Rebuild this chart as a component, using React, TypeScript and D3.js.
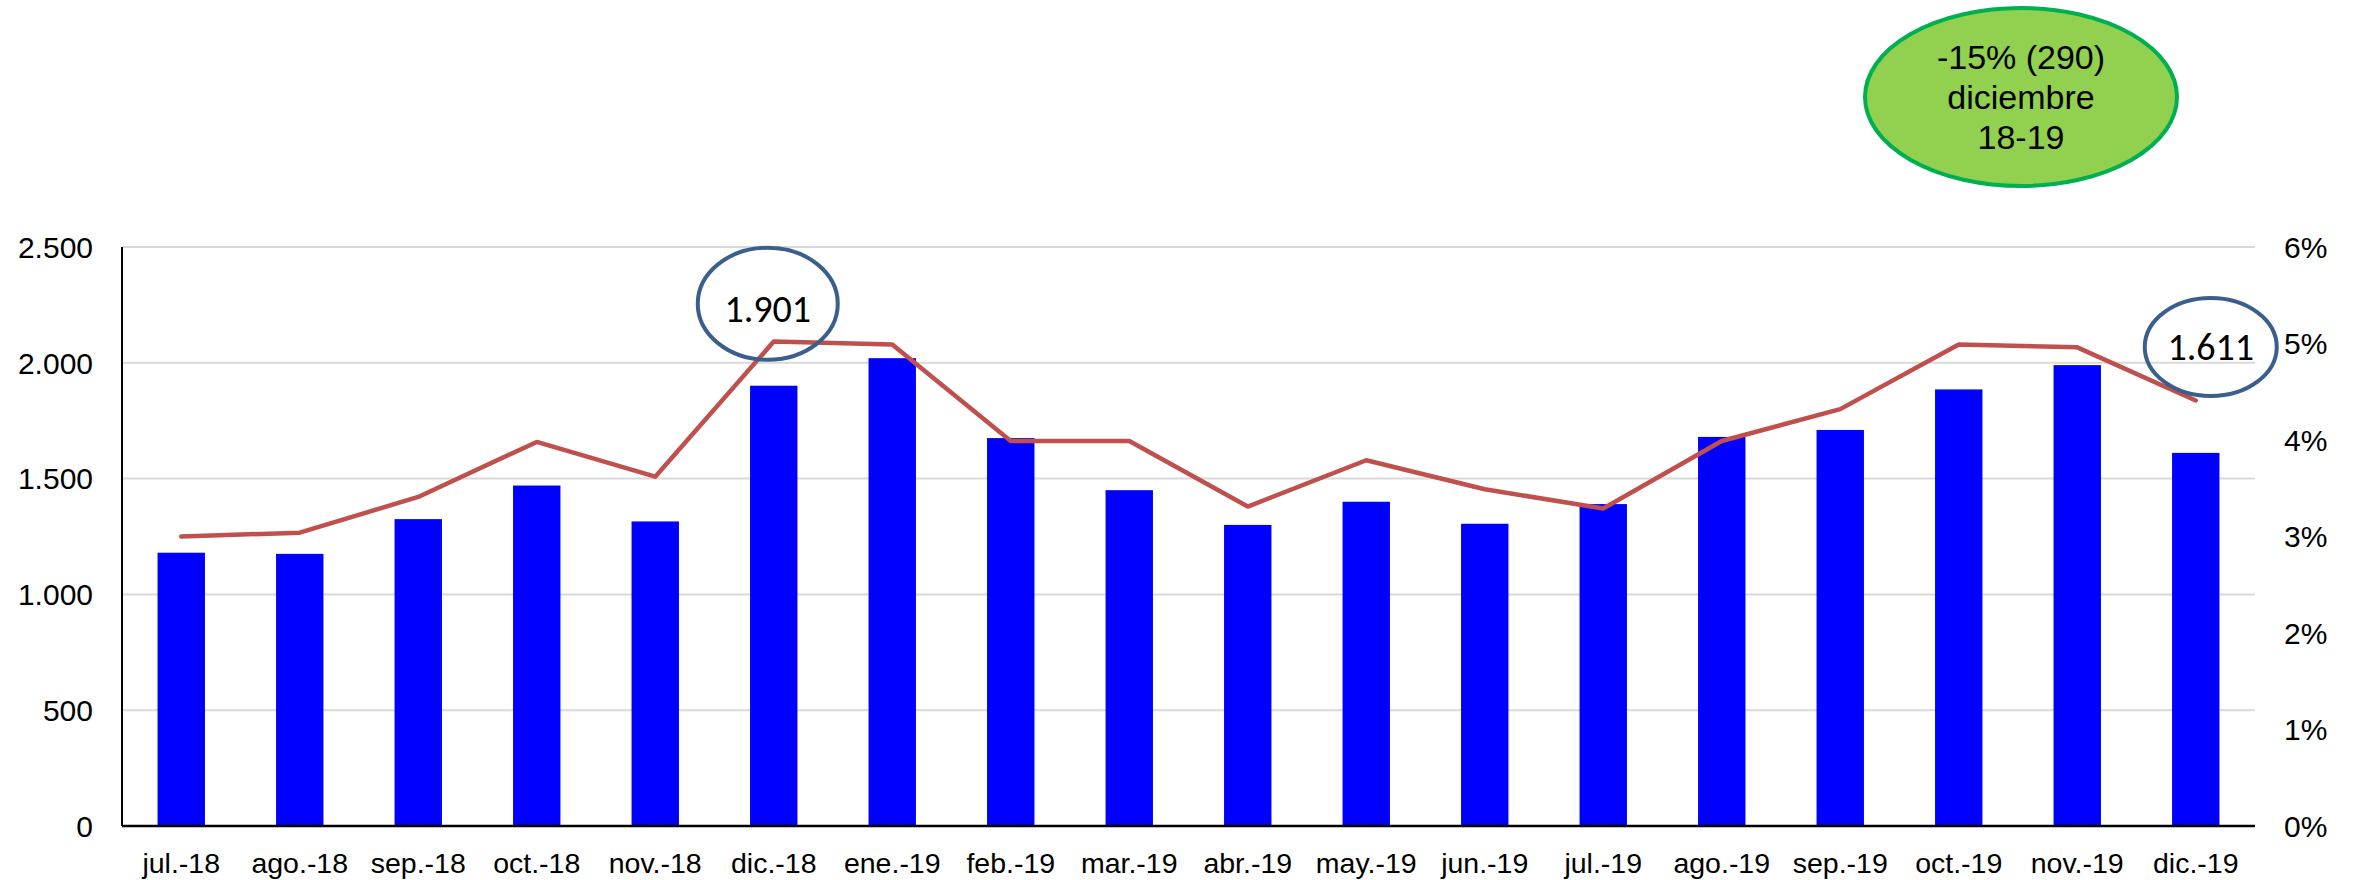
import * as d3 from "d3";
import { useEffect, useRef } from "react";

const months = [
  "jul.-18", "ago.-18", "sep.-18", "oct.-18", "nov.-18", "dic.-18",
  "ene.-19", "feb.-19", "mar.-19", "abr.-19", "may.-19", "jun.-19",
  "jul.-19", "ago.-19", "sep.-19", "oct.-19", "nov.-19", "dic.-19",
];
const cases = [
  1180, 1175, 1325, 1470, 1315, 1901,
  2020, 1675, 1450, 1300, 1400, 1305,
  1390, 1680, 1710, 1885, 1990, 1611,
];
// percent, right axis
const rates = [
  3.0, 3.04, 3.41, 3.98, 3.62, 5.02,
  4.99, 3.99, 3.99, 3.31, 3.79, 3.49,
  3.29, 3.99, 4.32, 4.99, 4.96, 4.41,
];
const leftTicks = [0, 500, 1000, 1500, 2000, 2500];
const rightTicks = [0, 1, 2, 3, 4, 5, 6];
const calloutLines = ["-15% (290)", "diciembre", "18-19"];

const W = 2359;
const H = 880;

export default function App() {
  const svgRef = useRef<SVGSVGElement | null>(null);

  useEffect(() => {
    if (!svgRef.current) return;
    const svg = d3.select(svgRef.current);
    svg.selectAll("*").remove();

    const margin = { top: 247, right: 104, bottom: 54, left: 122 };
    const x0 = margin.left;
    const x1 = W - margin.right;
    const yBottom = H - margin.bottom;

    const x = d3
      .scaleBand()
      .domain(months)
      .range([x0, x1])
      .paddingInner(0.6)
      .paddingOuter(0.3);
    const yL = d3.scaleLinear().domain([0, 2500]).range([yBottom, margin.top]);
    const yR = d3.scaleLinear().domain([0, 6]).range([yBottom, margin.top]);
    const cx = (m: string) => x(m)! + x.bandwidth() / 2;

    const fmt = (v: number) => d3.format(",")(v).replace(/,/g, ".");

    // gridlines
    svg
      .append("g")
      .selectAll("line")
      .data(leftTicks.filter((t) => t > 0))
      .join("line")
      .attr("x1", x0)
      .attr("x2", x1)
      .attr("y1", (d) => yL(d))
      .attr("y2", (d) => yL(d))
      .attr("stroke", "#d9d9d9")
      .attr("stroke-width", 2);

    // bars
    svg
      .append("g")
      .selectAll("rect")
      .data(months)
      .join("rect")
      .attr("x", (d) => x(d)!)
      .attr("width", x.bandwidth())
      .attr("y", (d, i) => yL(cases[i]))
      .attr("height", (d, i) => yBottom - yL(cases[i]))
      .attr("fill", "#0000ff");

    // axes lines
    svg
      .append("line")
      .attr("x1", x0)
      .attr("x2", x0)
      .attr("y1", margin.top)
      .attr("y2", yBottom)
      .attr("stroke", "#000")
      .attr("stroke-width", 2);
    svg
      .append("line")
      .attr("x1", x0)
      .attr("x2", x1)
      .attr("y1", yBottom)
      .attr("y2", yBottom)
      .attr("stroke", "#000")
      .attr("stroke-width", 2.5);

    // rate line
    const line = d3
      .line<number>()
      .x((d, i) => cx(months[i]))
      .y((d) => yR(d));
    svg
      .append("path")
      .datum(rates)
      .attr("d", line)
      .attr("fill", "none")
      .attr("stroke", "#c0504d")
      .attr("stroke-width", 4.5)
      .attr("stroke-linejoin", "round")
      .attr("stroke-linecap", "round");

    // left tick labels
    svg
      .append("g")
      .selectAll("text")
      .data(leftTicks)
      .join("text")
      .attr("x", 93)
      .attr("y", (d) => yL(d))
      .attr("dy", "0.36em")
      .attr("text-anchor", "end")
      .attr("font-family", "'Liberation Sans', Arial, sans-serif")
      .attr("font-size", 30)
      .attr("fill", "#000")
      .text((d) => fmt(d));

    // right tick labels
    svg
      .append("g")
      .selectAll("text")
      .data(rightTicks)
      .join("text")
      .attr("x", 2284)
      .attr("y", (d) => yR(d))
      .attr("dy", "0.36em")
      .attr("font-family", "'Liberation Sans', Arial, sans-serif")
      .attr("font-size", 30)
      .attr("fill", "#000")
      .text((d) => `${d}%`);

    // x labels
    svg
      .append("g")
      .selectAll("text")
      .data(months)
      .join("text")
      .attr("x", (d) => cx(d))
      .attr("y", 873)
      .attr("text-anchor", "middle")
      .attr("font-family", "'Liberation Sans', Arial, sans-serif")
      .attr("font-size", 28.5)
      .attr("fill", "#000")
      .text((d) => d);

    // value callouts
    const callouts = [
      { month: "dic.-18", at: 2255, dx: -6, rx: 70, ry: 56, base: 18 },
      { month: "dic.-19", at: 2068, dx: 15, rx: 66, ry: 49, base: 13 },
    ];
    callouts.forEach((c) => {
      const i = months.indexOf(c.month);
      const px = cx(c.month) + c.dx;
      const py = yL(c.at);
      svg
        .append("ellipse")
        .attr("cx", px)
        .attr("cy", py)
        .attr("rx", c.rx)
        .attr("ry", c.ry)
        .attr("fill", "none")
        .attr("stroke", "#3b5f8c")
        .attr("stroke-width", 4);
      svg
        .append("text")
        .attr("x", px)
        .attr("y", py + c.base)
        .attr("text-anchor", "middle")
        .attr("font-family", "Carlito, Lato, sans-serif")
        .attr("font-size", 38)
        .attr("fill", "#000")
        .text(fmt(cases[i]));
    });

    // green summary bubble
    const g = svg.append("g").attr("transform", "translate(2021, 97)");
    g.append("ellipse")
      .attr("rx", 156)
      .attr("ry", 89)
      .attr("fill", "#92d050")
      .attr("stroke", "#00b050")
      .attr("stroke-width", 4);
    g.selectAll("text")
      .data(calloutLines)
      .join("text")
      .attr("y", (d, i) => (i - 1) * 40 + 12)
      .attr("text-anchor", "middle")
      .attr("font-family", "'Liberation Sans', Arial, sans-serif")
      .attr("font-size", 34)
      .attr("fill", "#000")
      .text((d) => d);
  }, []);

  return (
    <>
      <style>{`body{margin:0}`}</style>
      <svg ref={svgRef} width={W} height={H} style={{ display: "block", background: "#fff" }} />
    </>
  );
}
